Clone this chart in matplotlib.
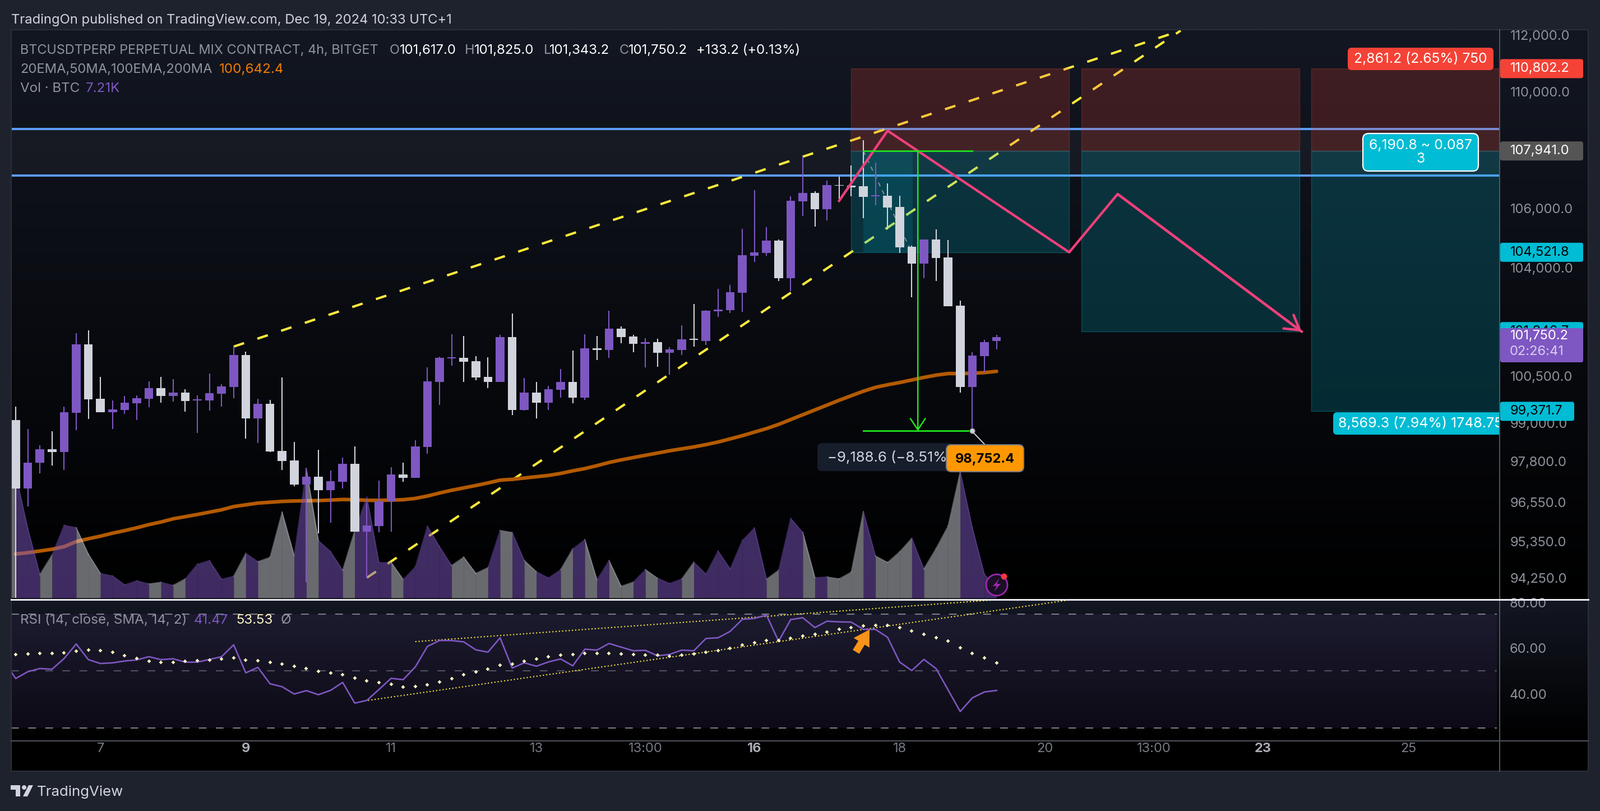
import numpy as np
import matplotlib
matplotlib.use("Agg")
import matplotlib.pyplot as plt
from matplotlib.lines import Line2D
from matplotlib.patches import FancyBboxPatch, Rectangle, Circle, Polygon
from matplotlib.transforms import IdentityTransform, Bbox
from matplotlib.ticker import NullLocator
from matplotlib.colors import to_rgb

# ---------- data ----------
OPEN = [99090,96960,97762,98175,98095,99321,101506,99770,99341,99409,99627,99770,100103,99858,99960,99722,99715,99926,100137,101161,99145,99606,98128,97829,97083,97322,96911,97169,97721,95638,95807,96562,97395,97289,98249,100302,101065,101072,100967,100466,100302,
        101739,99416,99967,99650,100059,100305,99803,101387,101325,102022,101760,101522,101584,101243,101325,101698,101615,102587,102618,103187,104408,104504,104910,103662,106225,106510,105966,106782,106749,106739,106400,106411,106043,104707,104152,104952,104354,102765,100141,101129,101617]
HIGH = [99520,98810,98310,98740,99520,101867,101958,100466,99715,99858,99872,100322,100466,100391,100069,99872,100569,100233,101458,101272,99770,99729,100446,98404,97600,98162,97514,97915,98263,96516,97203,97620,97770,98458,100768,101113,101832,101777,101127,101092,101818,
        102513,100428,100305,100172,100715,101315,101833,101781,102597,102085,101812,101708,101688,101418,102126,102817,102618,103313,103440,105309,106608,105362,104952,106400,107753,106565,106924,107066,107441,108310,107550,106837,106425,104739,104952,105287,104931,102934,101253,101657,101825]
LOW = [93660,96420,97434,97681,97541,98780,99139,99341,98814,99287,99098,99504,99640,99681,99362,98693,99402,99525,99783,98511,98377,98088,97541,97037,94125,95592,95918,96956,95638,94255,95632,95644,97175,97289,98041,99578,100823,100308,100356,100110,100302,
       99254,99396,99153,99416,99803,99629,99742,101005,101077,101543,101253,100766,100787,100540,101170,101439,101491,102398,102524,102566,104205,104408,103578,103240,105740,105384,105589,106236,106392,105664,106097,105276,104504,103039,103662,103578,102744,99967,98752,100612,101343]
CLOSE = [96960,97770,98175,98088,99341,101506,99756,99341,99429,99640,99783,100103,99858,99960,99695,99749,99947,100158,101161,99145,99606,98108,97815,97083,97322,96911,97182,97721,95638,95826,96575,97395,97289,98263,100322,101072,101092,100947,100446,100302,101742,
         99416,99967,99650,100069,100305,99803,101387,101325,102022,101739,101522,101584,101243,101346,101667,101657,102597,102639,103208,104429,104514,104910,103662,106247,106510,105966,106782,106749,106706,106381,106433,106020,104685,104152,104952,104333,102744,100141,101150,101584,101750]
EMA = [94968,95007,95059,95111,95189,95344,95429,95507,95598,95677,95762,95859,95938,96036,96101,96167,96239,96311,96410,96463,96516,96542,96568,96581,96588,96595,96608,96627,96621,96601,96601,96608,96621,96660,96733,96825,96911,96983,97057,97136,97223,
       97248,97288,97328,97368,97430,97510,97580,97670,97770,97850,97922,97993,98063,98134,98195,98255,98326,98407,98505,98605,98717,98828,98960,99112,99264,99416,99568,99721,99865,100008,100131,100213,100285,100366,100448,100520,100571,100571,100581,100602,100642]
VOLUME = [98,55,18.5,34,57.6,55.6,34.7,19.4,17.4,10.4,13.6,11.1,12.4,9.9,15.1,26.7,29.6,14.8,17.2,35.2,28.7,32.1,67.9,33.5,102,45.4,36.7,21.9,53.4,79.8,27.9,28.2,14.6,24.5,56.8,40.6,25.7,32.3,19.4,24,53.4,
          51.8,29.6,20.7,15.8,22.4,38.8,46.2,14.3,29.6,9.2,12.5,22.4,15.6,11.5,15,28.3,18.9,37.2,23,45.4,55.4,14.8,21.9,63,51.8,16.1,16.6,15.1,20.4,68.4,33.2,28.1,36.5,47.2,23,39,56.9,100,55.6,18.6,7.21]
RSI = [46.7,49.7,51.1,50.8,55.5,61.9,55.0,53.3,53.6,54.4,54.9,56.3,55.0,55.4,53.9,53.9,55.1,56.3,61.5,49.2,51.6,44.4,43.1,39.9,41.4,39.6,41.5,45.0,35.9,37.1,41.9,46.8,46.2,51.8,60.8,63.4,63.4,62.8,59.3,58.3,64.6,51.3,53.6,52.1,54.0,
       55.3,52.3,59.6,59.2,62.1,60.5,58.9,59.1,56.7,57.3,59.2,58.9,64.3,64.6,67.4,72.7,73.1,74.6,63.1,72.6,73.4,69.1,71.9,71.6,71.5,68.3,68.3,64.8,53.9,50.2,55.1,51.1,41.7,32.2,38.2,40.8,41.47]
RSI_BEFORE = 49.6
RSI_MA = [57.3,57.5,57.8,57.8,58.0,58.7,59.2,59.0,58.3,56.8,55.5,54.3,53.8,53.8,54.3,54.6,54.8,55.3,55.8,54.8,54.6,53.8,53.1,52.1,51.1,49.9,49.1,48.4,46.9,45.7,45.0,44.2,43.0,43.2,44.0,45.2,46.7,48.4,49.6,50.9,52.6,53.1,54.3,55.3,56.3,
          56.9,57.3,57.8,57.8,57.8,57.5,57.3,57.0,57.0,56.5,57.0,57.5,58.3,59.0,60.0,61.5,62.4,63.4,63.4,64.4,65.4,66.1,67.1,68.3,69.1,69.8,70.1,70.1,69.1,67.6,66.1,64.7,63.2,60.2,57.8,55.8,53.53]

PRICE_TICKS = [112000,110000,106000,104000,100500,99000,97800,96550,95350,94250]
PRICE_TICK_LABELS = ["112,000.0","110,000.0","106,000.0","104,000.0","100,500.0","99,000.0","97,800.0","96,550.0","95,350.0","94,250.0"]
RSI_TICKS = [80,60,40]
RSI_TICK_LABELS = ["80.00","60.00","40.00"]
RSI_LEVELS = [75,50,25]
TIME_BARS = [7,19,31,43,52,61,73,85,94,103,115]
TIME_LABELS = ["7","9","11","13","13:00","16","18","20","13:00","23","25"]
TIME_BOLD = ["9","16","23"]

BLUE_LEVELS = [108697,107101]
STOP_PRICE = 110802.2
ENTRY_PRICE = 107941.0
TARGET_1 = 104521.8
TARGET_2 = 101921
TARGET_3 = 99371.7
LOW_PRICE = 98752.4
BOX_BARS = [(69,87,TARGET_1),(88,106,TARGET_2),(107,122.55,TARGET_3)]
ZIG_BARS = [68,72,87,91,106.2]
ZIG_PRICES = [106246,108639,104522,106473,101921]
CHANNEL_UP_BARS = [18,96.2]
CHANNEL_UP_PRICES = [101436,112148]
CHANNEL_LOW_BARS = [29,96.2]
CHANNEL_LOW_PRICES = [94255,112148]
RSI_UP_BARS = [33,80.7]
RSI_UP_VALS = [62.9,81.2]
RSI_LOW_BARS = [29.1,87]
RSI_LOW_VALS = [37.1,81.2]

# ---------- layout ----------
W, H, DPI = 2854, 1446, 100
FONT = "Inter"
plt.rcParams["font.family"] = FONT
PURPLE, GREYW = "#7e57c2", "#d1d4dc"
TXT = "#8f939d"
fig = plt.figure(figsize=(W/DPI, H/DPI), dpi=DPI, facecolor="#1e222d")
ID = IdentityTransform()
XLIM = ((20-28)/21.6, (2675-28)/21.6)
YLIM = (93603, 112180)
RSILIM = (19.3, 81.4)

def axpx(x0, y0, x1, y1, z):
    a = fig.add_axes([x0/W, 1-y1/H, (x1-x0)/W, (y1-y0)/H], zorder=z)
    a.patch.set_alpha(0)
    for s in a.spines.values():
        s.set_visible(False)
    return a

def gradient(x0, y0, x1, y1, c0, c1):
    a = axpx(x0, y0, x1, y1, 0)
    t = np.linspace(0, 1, 256)[:, None, None]
    img = (1-t)*np.array(to_rgb(c0))[None, None, :] + t*np.array(to_rgb(c1))[None, None, :]
    a.imshow(img, aspect="auto", interpolation="bilinear")
    a.axis("off")

gradient(20, 53, 2833, 1069, "#131722", "#000000")
gradient(20, 1069, 2833, 1321, "#131722", "#000000")
gradient(20, 1321, 2833, 1375, "#000000", "#000000")

ax_low = axpx(20, 53, 2675, 1069, 1)
ax_vol = axpx(20, 53, 2675, 1069, 2)
ax = axpx(20, 53, 2675, 1069, 3)
ax_rsi = axpx(20, 1069, 2675, 1321, 3)
ax_time = axpx(20, 1321, 2675, 1375, 3)
for a in (ax_low, ax):
    a.set_yscale("log")
    a.set_ylim(*YLIM)
for a in (ax_low, ax_vol, ax, ax_rsi, ax_time):
    a.set_xlim(*XLIM)
    a.set_xticks([])
    a.xaxis.set_minor_locator(NullLocator())
ax_low.set_yticks([]); ax_low.yaxis.set_minor_locator(NullLocator())
ax_vol.set_yticks([]); ax_vol.set_ylim(-1.33, 450)
ax_time.set_yticks([])

bars = np.arange(len(CLOSE))
opens, highs, lows, closes = map(np.array, (OPEN, HIGH, LOW, CLOSE))
up = closes >= opens
colors = [PURPLE if u else GREYW for u in up]

# blue levels, band, channels, EMA below the position boxes
ax_low.axhspan(BLUE_LEVELS[1], BLUE_LEVELS[0], color="#ffffff", alpha=0.035, lw=0, zorder=1)
for lv in BLUE_LEVELS:
    ax_low.axhline(lv, color="#5b9cf6", lw=2.9, zorder=2)
for bx, py in ((CHANNEL_UP_BARS, CHANNEL_UP_PRICES), (CHANNEL_LOW_BARS, CHANNEL_LOW_PRICES)):
    ax_low.plot(bx, py, color="#ffeb3b", lw=3.0, dashes=(4.7, 6), zorder=2, dash_capstyle="butt")
ax_low.plot(bars, EMA, color="#b35a00", lw=4.6, zorder=2, solid_capstyle="round")

# position boxes
for b0, b1, tgt in BOX_BARS:
    ax_low.add_patch(Rectangle((b0, ENTRY_PRICE), b1-b0, STOP_PRICE-ENTRY_PRICE,
                               fc=(0.957, 0.263, 0.212, 0.2), ec=(0.957, 0.263, 0.212, 0.25), lw=1, zorder=3))
    ax_low.add_patch(Rectangle((b0, tgt), b1-b0, ENTRY_PRICE-tgt,
                               fc=(0, 0.737, 0.831, 0.2), ec=(0, 0.737, 0.831, 0.3), lw=1, zorder=3))
ax_low.add_patch(Rectangle((70, TARGET_1), 4.07, ENTRY_PRICE-TARGET_1, fc=(0, 0.737, 0.831, 0.14), lw=0, zorder=3))
ax_low.plot([70, 74], [ENTRY_PRICE, TARGET_1], color="#8a8d95", lw=1.4, dashes=(4, 4), zorder=4)

# volume
xs = [XLIM[0]] + list(bars)
vs = [VOLUME[0]] + list(VOLUME)
cols = colors[:1] + colors
for k in range(len(xs)-1):
    c = cols[k+1]
    ax_vol.fill_between(xs[k:k+2], vs[k:k+2], 0, color=c, alpha=0.5, lw=0)
    ax_vol.plot(xs[k:k+2], vs[k:k+2], color=c, alpha=0.35, lw=1.5)

# candles
ax.vlines(bars, lows, highs, colors=colors, lw=1.5, zorder=3)
ax.bar(bars, closes-opens, bottom=opens, width=0.72, color=colors, lw=0, zorder=4)

# pink zig-zag
ax.plot(ZIG_BARS, ZIG_PRICES, color="#ec407a", lw=3.2, zorder=5)
ax.annotate("", xy=(ZIG_BARS[-1], ZIG_PRICES[-1]), xytext=(ZIG_BARS[-2], ZIG_PRICES[-2]), zorder=5,
            arrowprops=dict(arrowstyle="->,head_length=0.75,head_width=0.45", mutation_scale=24,
                            color="#ec407a", lw=3.2, shrinkA=0, shrinkB=0))
# green measure
ax.plot([70, 79], [ENTRY_PRICE, ENTRY_PRICE], color="#1fe61f", lw=2, zorder=5)
ax.plot([70, 79], [LOW_PRICE, LOW_PRICE], color="#1fe61f", lw=2, zorder=5)
ax.annotate("", xy=(74.5, LOW_PRICE), xytext=(74.5, ENTRY_PRICE), zorder=5,
            arrowprops=dict(arrowstyle="->,head_length=0.6,head_width=0.4", mutation_scale=24,
                            color="#1fe61f", lw=1.8, shrinkA=0, shrinkB=0))
ax.plot([79], [LOW_PRICE], "o", mfc="#d1d4dc", mec="#50535e", ms=7, mew=1, zorder=6)

# price axis
ax.yaxis.tick_right()
ax.set_yticks(PRICE_TICKS, labels=PRICE_TICK_LABELS)
ax.yaxis.set_minor_locator(NullLocator())
ax.tick_params(axis="y", length=0, pad=13.5, labelsize=17, labelcolor=TXT)

# RSI pane
ax_rsi.set_ylim(*RSILIM)
ax_rsi.axhspan(RSI_LEVELS[2], RSI_LEVELS[0], xmax=(122.3-XLIM[0])/(XLIM[1]-XLIM[0]), color=PURPLE, alpha=0.1, lw=0, zorder=1)
for lv, c in zip(RSI_LEVELS, ("#787b86", "#50535e", "#787b86")):
    ax_rsi.hlines(lv, XLIM[0], 122.3, color=c, lw=1.5, linestyles=(0, (6.6, 8)), zorder=2)
ax_rsi.plot(RSI_UP_BARS, RSI_UP_VALS, color="#ffeb3b", lw=1.5, ls=(0, (1, 1.8)), zorder=3)
ax_rsi.plot(RSI_LOW_BARS, RSI_LOW_VALS, color="#ffeb3b", lw=1.5, ls=(0, (1, 1.8)), zorder=3)
ax_rsi.plot(np.r_[XLIM[0], bars], np.r_[RSI_BEFORE, RSI], color=PURPLE, lw=1.9, zorder=4)
ax_rsi.plot(bars, RSI_MA, ls="none", marker="+", ms=5, mew=1.7, color="#fff9c4", zorder=5)
ax_rsi.annotate("", xy=(70.5, 68.1), xytext=(69.4, 58.5), zorder=6,
                arrowprops=dict(arrowstyle="simple,head_length=0.8,head_width=0.95,tail_width=0.38",
                                mutation_scale=24, fc="#f7931a", ec="#f7931a", lw=0.5, shrinkA=0, shrinkB=0))
ax_rsi.yaxis.tick_right()
ax_rsi.set_yticks(RSI_TICKS, labels=RSI_TICK_LABELS)
ax_rsi.tick_params(axis="y", length=0, pad=13, labelsize=17, labelcolor=TXT)

# time axis
ax_time.set_xticks(TIME_BARS, labels=TIME_LABELS)
ax_time.tick_params(axis="x", length=0, pad=-29, labelsize=17, labelcolor="#787b86")
for lb in ax_time.get_xticklabels():
    lb.set_va("center")
    if lb.get_text() in TIME_BOLD:
        lb.set_fontweight("bold")
        lb.set_color("#a8abb3")

# ---------- figure level helpers in pixels (y from top) ----------
def y_of(price):
    return H - ax.transData.transform((0, price))[1]

def pxline(x0, y0, x1, y1, color, lw, z=8):
    fig.add_artist(Line2D([x0, x1], [H-y0, H-y1], transform=ID, color=color, lw=lw*0.72, zorder=z))

def box(x0, y0, x1, y1, fc, ec="none", lw=0, r=5, z=10, clip=None):
    p = FancyBboxPatch((x0+r, H-y1+r), x1-x0-2*r, y1-y0-2*r, boxstyle=f"round,pad={r},rounding_size={r}",
                       fc=fc, ec=ec, lw=lw, transform=ID, zorder=z)
    fig.add_artist(p)
    if clip:
        p.set_clip_box(Bbox([[0, 0], [clip, H]])); p.set_clip_on(True)
    return p

def txt(x, y, s, color="#d1d4dc", size=17, ha="left", weight="normal", z=11, clip=None):
    t = fig.text(x/W, 1-y/H, s, color=color, fontsize=size, ha=ha, va="center", fontweight=weight, zorder=z)
    if clip:
        t.set_clip_box(Bbox([[0, 0], [clip, H]])); t.set_clip_on(True)
    return t

# frame
FR = "#2a2e39"
pxline(20, 53, 2833, 53, FR, 2)
pxline(20, 53, 20, 1375, FR, 2)
pxline(2833, 53, 2833, 1375, FR, 2)
pxline(20, 1375, 2833, 1375, FR, 2)
pxline(2675, 53, 2675, 1375, "#50535e", 2)
pxline(20, 1321, 2833, 1321, "#50535e", 2)
pxline(20, 1069, 2833, 1069, "#e8eaef", 3, z=9)

# header texts
HD = "#d1d4dc"
txt(20, 36, "TradingOn published on TradingView.com, Dec 19, 2024 10:33 UTC+1", HD, 17.1)
txt(36, 90, "BTCUSDTPERP PERPETUAL MIX CONTRACT, 4h, BITGET", TXT, 16.9)
for x, s in ((695, "O"), (829, "H"), (970, "L"), (1105, "C")):
    txt(x, 90, s, TXT, 17.0)
for x, s in ((713, "101,617.0"), (846, "101,825.0"), (980, "101,343.2"), (1121, "101,750.2"), (1242, "+133.2 (+0.13%)")):
    txt(x, 90, s, "#ffffff", 17.2)
txt(36, 124.5, "20EMA,50MA,100EMA,200MA", TXT, 17.1)
txt(391, 124.5, "100,642.4", "#f57c00", 17.4)
txt(36, 158, "Vol · BTC", TXT, 17.4)
txt(153, 158, "7.21K", PURPLE, 17.4)
txt(36, 1106, "RSI (14, close, SMA, 14, 2)", TXT, 17.4)
txt(346, 1106, "41.47", PURPLE, 17.4)
txt(421, 1106, "53.53", "#fff9c4", 17.4)
txt(500, 1106, "Ø", TXT, 17.4)

# price tags
def tag(price, text, fc, tc, x1=2824):
    y = y_of(price)
    box(2676, y-17, x1, y+17, fc, r=4)
    txt(2694, y, text, tc, 17)

tag(STOP_PRICE, "110,802.2", "#f44336", "#ffffff")
tag(ENTRY_PRICE, "107,941.0", "#555555", "#ffffff")
tag(TARGET_1, "104,521.8", "#00bcd4", "#000000")
tag(TARGET_2, "101,846.7", "#00bcd4", "#000000")
box(2676, 585, 2824, 646, PURPLE, r=4, z=12)
txt(2694, 599, "101,750.2", "#ffffff", 17, z=13)
txt(2693, 627, "02:26:41", "#d8cdee", 17, z=13)
tag(TARGET_3, "99,371.7", "#00bcd4", "#000000", x1=2808)

box(2404, 85, 2664, 125, "#f44336", r=7)
txt(2534, 105, "2,861.2 (2.65%) 750", "#ffffff", 17.8, ha="center")
box(2431, 238, 2637, 305, "#00bcd4", ec="#ffffff", lw=1.6, r=10)
txt(2534, 259, "6,190.8 ~ 0.087", "#ffffff", 17.8, ha="center")
txt(2534, 284, "3", "#ffffff", 17.8, ha="center")
box(2378, 735, 2720, 775, "#00bcd4", r=7, clip=2674)
txt(2387, 755, "8,569.3 (7.94%) 1748.75", "#ffffff", 18, clip=2674)

# low measure labels
pxline(1735, 770, 1757, 793, "#c8cad0", 2)
box(1458, 790, 1700, 840, "#161d2b", r=8)
txt(1476, 816, "−9,188.6 (−8.51%)", "#d1d4dc", 18.5)
box(1688, 793, 1826, 841, "#ff9800", ec="#787b86", lw=1.5, r=9, z=12)
txt(1757, 819, "98,752.4", "#000000", 17, ha="center", weight="bold", z=13)

# lightning badge
fig.add_artist(Circle((1778, H-1043), 19, fc="#1a0f24", ec="#9c27b0", lw=2, transform=ID, zorder=10))
fig.add_artist(Polygon([(1783, H-1031), (1771, H-1045), (1778, H-1045), (1773, H-1055), (1785, H-1041), (1778, H-1041)],
                       closed=True, fc="#9c27b0", lw=0, transform=ID, zorder=11))
fig.add_artist(Circle((1791, H-1028), 5.5, fc="#f23645", lw=0, transform=ID, zorder=12))

# footer logo
LG = "#d1d4dc"
for pts in ([(19, 1400), (36, 1400), (36, 1420), (28, 1420), (28, 1408), (19, 1408)],
            [(51, 1400), (59, 1400), (49, 1420), (41, 1420)]):
    fig.add_artist(Polygon([(a, H-b) for a, b in pts], closed=True, fc=LG, lw=0, transform=ID, zorder=10))
fig.add_artist(Circle((43, H-1404), 4, fc=LG, lw=0, transform=ID, zorder=10))
txt(66, 1412, "TradingView", LG, 18.6)

fig.savefig("out.png", dpi=DPI, facecolor=fig.get_facecolor())
